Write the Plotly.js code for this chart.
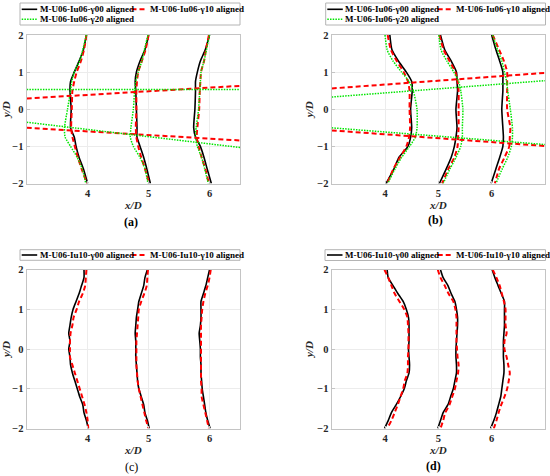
<!DOCTYPE html>
<html>
<head>
<meta charset="utf-8">
<script src="https://cdn.plot.ly/plotly-3.0.1.min.js"></script>
<style>html,body{margin:0;padding:0;background:#fff;}#chart{width:550px;height:476px;}</style>
</head>
<body>
<div id="chart"></div>
<script>
// ---------- data ----------
// y/D sample positions for panels (a),(b)
const yAB = [2, 1.6, 1.3, 1.0, 0.75, 0.5, 0, -0.5, -0.75, -1.0, -1.3, -1.6, -2];
// y/D sample positions for panels (c),(d)
const yCD = [2, 1.8, 1.6, 1.4, 1.2, 1.0, 0.8, 0.6, 0.4, 0.2, 0, -0.2, -0.4, -0.6, -0.8, -1.0, -1.2, -1.4, -1.6, -1.8, -2];

// panel (a): profiles at x/D = 4, 5, 6
const a_g00 = [
  [3.98, 3.93, 3.86, 3.78, 3.72, 3.71, 3.73, 3.72, 3.78, 3.81, 3.86, 3.93, 4.00],
  [5.00, 4.94, 4.86, 4.80, 4.78, 4.79, 4.80, 4.81, 4.81, 4.86, 4.92, 4.97, 5.03],
  [6.00, 5.93, 5.85, 5.80, 5.77, 5.77, 5.76, 5.74, 5.77, 5.85, 5.91, 5.96, 6.03]
];
const a_g10 = [
  [3.98, 3.94, 3.89, 3.82, 3.78, 3.75, 3.74, 3.73, 3.75, 3.79, 3.84, 3.90, 3.99],
  [5.00, 4.95, 4.89, 4.83, 4.81, 4.80, 4.80, 4.79, 4.80, 4.83, 4.88, 4.94, 5.01],
  [5.99, 5.94, 5.91, 5.86, 5.85, 5.84, 5.83, 5.80, 5.79, 5.82, 5.87, 5.93, 5.99]
];
const a_g20 = [
  [3.98, 3.92, 3.87, 3.78, 3.74, 3.72, 3.67, 3.62, 3.63, 3.72, 3.83, 3.91, 3.97],
  [4.99, 4.93, 4.89, 4.83, 4.79, 4.77, 4.75, 4.71, 4.70, 4.75, 4.86, 4.94, 4.99],
  [6.00, 5.95, 5.91, 5.86, 5.85, 5.84, 5.82, 5.78, 5.77, 5.80, 5.87, 5.92, 5.98]
];
// panel (a) straight wake lines (x ends, y ends)
const a_lineX = [3, 6.5];
const a_g10_up = [0.29, 0.63];
const a_g10_lo = [-0.50, -0.84];
const a_g20_up = [0.53, 0.53];
const a_g20_lo = [-0.35, -1.03];

// panel (b)
const b_g00 = [
  [4.09, 4.13, 4.25, 4.40, 4.50, 4.51, 4.48, 4.50, 4.48, 4.43, 4.26, 4.17, 4.02],
  [5.04, 5.12, 5.24, 5.34, 5.35, 5.36, 5.33, 5.35, 5.33, 5.30, 5.24, 5.15, 5.02],
  [6.00, 6.08, 6.15, 6.21, 6.21, 6.21, 6.19, 6.21, 6.22, 6.21, 6.15, 6.08, 5.99]
];
const b_g10 = [
  [4.05, 4.11, 4.22, 4.35, 4.43, 4.46, 4.46, 4.47, 4.45, 4.40, 4.28, 4.16, 4.04],
  [5.02, 5.10, 5.21, 5.32, 5.36, 5.38, 5.38, 5.38, 5.37, 5.36, 5.30, 5.19, 5.07],
  [6.02, 6.14, 6.23, 6.29, 6.29, 6.29, 6.29, 6.35, 6.34, 6.33, 6.24, 6.14, 6.06]
];
const b_g20 = [
  [4.00, 4.04, 4.15, 4.31, 4.45, 4.53, 4.60, 4.60, 4.57, 4.46, 4.31, 4.19, 4.05],
  [5.01, 5.05, 5.16, 5.29, 5.38, 5.42, 5.46, 5.45, 5.45, 5.42, 5.33, 5.22, 5.09],
  [6.02, 6.11, 6.19, 6.24, 6.28, 6.30, 6.35, 6.39, 6.39, 6.37, 6.30, 6.20, 6.08]
];
const b_lineX = [3, 7];
const b_g10_up = [0.56, 0.98];
const b_g10_lo = [-0.57, -0.99];
const b_g20_up = [0.33, 0.77];
const b_g20_lo = [-0.50, -0.95];

// panel (c)
const c_g00 = [
  [3.94, 3.94, 3.90, 3.86, 3.81, 3.76, 3.73, 3.71, 3.69, 3.71, 3.69, 3.71, 3.72, 3.75, 3.79, 3.83, 3.87, 3.92, 3.94, 3.98, 4.01],
  [4.98, 4.94, 4.92, 4.88, 4.84, 4.82, 4.80, 4.79, 4.78, 4.79, 4.79, 4.79, 4.80, 4.81, 4.82, 4.84, 4.88, 4.92, 4.94, 4.98, 5.01],
  [6.00, 5.97, 5.94, 5.90, 5.86, 5.86, 5.86, 5.85, 5.83, 5.84, 5.85, 5.85, 5.86, 5.86, 5.87, 5.88, 5.90, 5.92, 5.94, 5.97, 6.01]
];
const c_g10 = [
  [3.98, 3.97, 3.96, 3.92, 3.86, 3.82, 3.77, 3.75, 3.72, 3.71, 3.71, 3.71, 3.75, 3.79, 3.83, 3.87, 3.91, 3.95, 3.98, 4.00, 4.01],
  [4.99, 4.98, 4.97, 4.93, 4.88, 4.84, 4.83, 4.82, 4.81, 4.80, 4.80, 4.80, 4.80, 4.81, 4.82, 4.84, 4.87, 4.90, 4.93, 4.96, 5.00],
  [6.02, 6.00, 5.97, 5.93, 5.90, 5.88, 5.87, 5.86, 5.86, 5.86, 5.86, 5.86, 5.86, 5.86, 5.86, 5.87, 5.87, 5.90, 5.93, 5.96, 5.99]
];

// panel (d)
const d_g00 = [
  [4.04, 4.06, 4.15, 4.24, 4.34, 4.40, 4.44, 4.45, 4.45, 4.45, 4.44, 4.45, 4.46, 4.45, 4.40, 4.36, 4.29, 4.21, 4.12, 4.06, 3.99],
  [5.04, 5.09, 5.18, 5.24, 5.31, 5.34, 5.36, 5.36, 5.35, 5.34, 5.33, 5.33, 5.34, 5.34, 5.31, 5.28, 5.23, 5.18, 5.09, 5.04, 4.99],
  [6.01, 6.06, 6.12, 6.18, 6.24, 6.24, 6.24, 6.24, 6.23, 6.22, 6.22, 6.22, 6.23, 6.23, 6.21, 6.19, 6.17, 6.13, 6.09, 6.04, 5.98]
];
const d_g10 = [
  [3.99, 4.06, 4.12, 4.18, 4.27, 4.36, 4.42, 4.43, 4.44, 4.44, 4.44, 4.43, 4.43, 4.42, 4.37, 4.34, 4.29, 4.24, 4.18, 4.12, 4.04],
  [4.99, 5.04, 5.12, 5.19, 5.28, 5.32, 5.34, 5.34, 5.34, 5.34, 5.35, 5.36, 5.38, 5.37, 5.34, 5.31, 5.26, 5.21, 5.13, 5.09, 5.04],
  [6.02, 6.09, 6.15, 6.19, 6.23, 6.26, 6.26, 6.26, 6.28, 6.24, 6.24, 6.28, 6.31, 6.34, 6.32, 6.29, 6.24, 6.18, 6.13, 6.09, 6.04]
];

const xTicks = [4, 5, 6];
const yTicks = [-2, -1, 0, 1, 2];
const namesTop = ['M-U06-Iu06-γ00 aligned', 'M-U06-Iu06-γ10 aligned', 'M-U06-Iu06-γ20 aligned'];
const namesBot = ['M-U06-Iu10-γ00 aligned', 'M-U06-Iu10-γ10 aligned'];
const panelLabels = ['(a)', '(b)', '(c)', '(d)'];

// ---------- styles ----------
const SERIF = 'Liberation Serif, Times New Roman, serif';
const styles = [
  {color: '#000000', width: 1.6, dash: 'solid'},
  {color: '#ff0000', width: 2, dash: '5px,3px'},
  {color: '#00e600', width: 1.5, dash: '1.5px,1.2px'}
];

function joinProfiles(profiles, y) {
  const xs = [], ys = [];
  profiles.forEach((p, i) => {
    if (i > 0) { xs.push(null); ys.push(null); }
    p.forEach((v, j) => { xs.push(v); ys.push(y[j]); });
  });
  return {x: xs, y: ys};
}

const traces = [];
function addProfiles(profiles, y, s, name, ax) {
  const d = joinProfiles(profiles, y);
  traces.push({type: 'scatter', mode: 'lines', name: name, x: d.x, y: d.y,
    xaxis: 'x' + ax, yaxis: 'y' + ax, line: {color: styles[s].color, width: styles[s].width, dash: styles[s].dash, shape: 'spline', smoothing: 0.6},
    showlegend: false, connectgaps: false, hoverinfo: 'skip'});
}
function addLine(xs, ys, s, name, ax) {
  traces.push({type: 'scatter', mode: 'lines', name: name, x: xs, y: ys,
    xaxis: 'x' + ax, yaxis: 'y' + ax, line: {color: styles[s].color, width: styles[s].width, dash: styles[s].dash},
    showlegend: false, hoverinfo: 'skip'});
}

// (a)
addProfiles(a_g00, yAB, 0, namesTop[0], '');
addProfiles(a_g10, yAB, 1, namesTop[1], '');
addProfiles(a_g20, yAB, 2, namesTop[2], '');
addLine(a_lineX, a_g10_up, 1, namesTop[1], '');
addLine(a_lineX, a_g10_lo, 1, namesTop[1], '');
addLine(a_lineX, a_g20_up, 2, namesTop[2], '');
addLine(a_lineX, a_g20_lo, 2, namesTop[2], '');
// (b)
addProfiles(b_g00, yAB, 0, namesTop[0], '2');
addProfiles(b_g10, yAB, 1, namesTop[1], '2');
addProfiles(b_g20, yAB, 2, namesTop[2], '2');
addLine(b_lineX, b_g10_up, 1, namesTop[1], '2');
addLine(b_lineX, b_g10_lo, 1, namesTop[1], '2');
addLine(b_lineX, b_g20_up, 2, namesTop[2], '2');
addLine(b_lineX, b_g20_lo, 2, namesTop[2], '2');
// (c)
addProfiles(c_g00, yCD, 0, namesBot[0], '3');
addProfiles(c_g10, yCD, 1, namesBot[1], '3');
// (d)
addProfiles(d_g00, yCD, 0, namesBot[0], '4');
addProfiles(d_g10, yCD, 1, namesBot[1], '4');

// ---------- layout ----------
const W = 550, H = 476;
const px = v => v / W;
const py = v => 1 - v / H;

function xAxis(dom, range, anchor) {
  return {domain: dom, range: range, anchor: anchor, tickvals: xTicks, ticktext: xTicks.map(String),
    showgrid: true, gridcolor: '#ececec', gridwidth: 1, zeroline: false,
    showline: true, linecolor: '#c4c4c4', linewidth: 1, mirror: true,
    ticks: 'inside', ticklen: 3, tickcolor: '#c4c4c4',
    tickfont: {family: SERIF, size: 10.5, color: '#262626', weight: 'bold'},
    title: {text: '<i>x/D</i>', font: {family: SERIF, size: 11, color: '#262626', weight: 'bold'}, standoff: 3},
    fixedrange: true};
}
function yAxis(dom, anchor) {
  return {domain: dom, range: [-2, 2], anchor: anchor, tickvals: yTicks,
    showgrid: true, gridcolor: '#ececec', gridwidth: 1, zeroline: false,
    showline: true, linecolor: '#c4c4c4', linewidth: 1, mirror: true,
    ticks: 'inside', ticklen: 3, tickcolor: '#c4c4c4',
    tickfont: {family: SERIF, size: 10.5, color: '#262626', weight: 'bold'},
    title: {text: '<i>y/D</i>', font: {family: SERIF, size: 11, color: '#262626', weight: 'bold'}, standoff: 1},
    fixedrange: true};
}

const domTopY = [py(183.5), py(35)];
const domBotY = [py(428.5), py(269.7)];
const domLeftX = [px(26.7), px(240)];
const domRightX = [px(331.7), px(545)];

const shapes = [];
const annotations = [];

function legendBox(x0, x1, y0, y1, rows) {
  shapes.push({type: 'rect', xref: 'paper', yref: 'paper', x0: px(x0), x1: px(x1), y0: py(y1), y1: py(y0),
    line: {color: '#b4b4b4', width: 1}, fillcolor: 'rgba(255,255,255,1)', layer: 'above'});
  rows.forEach(r => {
    const s = styles[r.s];
    shapes.push({type: 'line', xref: 'paper', yref: 'paper', x0: px(r.x), x1: px(r.x + 15.5), y0: py(r.y), y1: py(r.y),
      line: {color: s.color, width: s.width, dash: s.dash}, layer: 'above'});
    annotations.push({xref: 'paper', yref: 'paper', x: px(r.x + 16), y: py(r.y), xanchor: 'left', yanchor: 'middle',
      text: r.name, showarrow: false, font: {family: SERIF, size: 9, color: '#000', weight: 'bold'}});
  });
}

legendBox(20, 240, 3, 25, [
  {x: 21.7, y: 9.3, s: 0, name: namesTop[0]},
  {x: 131.5, y: 9.3, s: 1, name: namesTop[1]},
  {x: 21.7, y: 19.3, s: 2, name: namesTop[2]}
]);
legendBox(325.7, 545.5, 3, 25, [
  {x: 327.3, y: 9.3, s: 0, name: namesTop[0]},
  {x: 437.7, y: 9.3, s: 1, name: namesTop[1]},
  {x: 327.3, y: 19.3, s: 2, name: namesTop[2]}
]);
legendBox(20, 240, 249.7, 260.3, [
  {x: 21.7, y: 255, s: 0, name: namesBot[0]},
  {x: 131.5, y: 255, s: 1, name: namesBot[1]}
]);
legendBox(325, 545.5, 249.7, 260.5, [
  {x: 327, y: 255, s: 0, name: namesBot[0]},
  {x: 437.7, y: 255, s: 1, name: namesBot[1]}
]);

const labelPos = [[131, 222, true], [435, 219.5, true], [131, 467, false], [433.5, 465.5, true]];
panelLabels.forEach((t, i) => {
  annotations.push({xref: 'paper', yref: 'paper', x: px(labelPos[i][0]), y: py(labelPos[i][1]), xanchor: 'center', yanchor: 'middle',
    text: t, showarrow: false, font: {family: SERIF, size: 12, color: '#000', weight: labelPos[i][2] ? 'bold' : 'normal'}});
});

const layout = {
  width: W, height: H, margin: {l: 0, r: 0, t: 0, b: 0, pad: 0},
  paper_bgcolor: '#ffffff', plot_bgcolor: '#ffffff', showlegend: false,
  xaxis: xAxis(domLeftX, [3, 6.5], 'y'),
  yaxis: yAxis(domTopY, 'x'),
  xaxis2: xAxis(domRightX, [3, 7], 'y2'),
  yaxis2: yAxis(domTopY, 'x2'),
  xaxis3: xAxis(domLeftX, [3, 6.5], 'y3'),
  yaxis3: yAxis(domBotY, 'x3'),
  xaxis4: xAxis(domRightX, [3, 7], 'y4'),
  yaxis4: yAxis(domBotY, 'x4'),
  shapes: shapes, annotations: annotations
};

Plotly.newPlot('chart', traces, layout, {staticPlot: true, displayModeBar: false});
</script>
</body>
</html>
